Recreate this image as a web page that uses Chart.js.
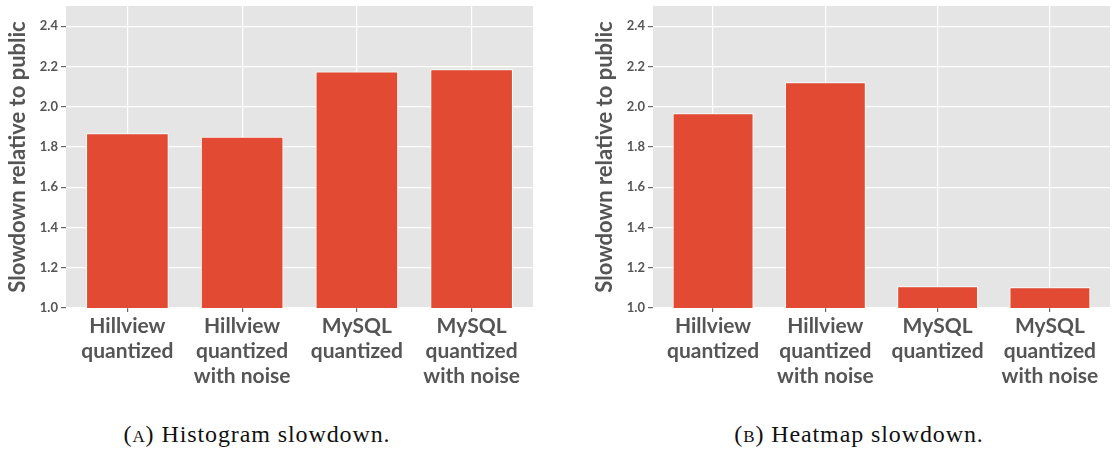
<!DOCTYPE html>
<html lang="en">

<head>
    <meta charset="UTF-8">
    <meta name="viewport" content="width=device-width, initial-scale=1.0">
    <title>Slowdown relative to public</title>
    <script src="https://cdn.jsdelivr.net/npm/chart.js"></script>
    <style>
        body {
            margin: 0;
            width: 1112px;
            height: 451px;
            background: #fff;
            position: relative;
            overflow: hidden;
        }

        .panel {
            position: absolute;
            top: 0;
            height: 395px;
        }

        #panelA {
            left: 0;
            width: 540px;
        }

        #panelB {
            left: 587px;
            width: 525px;
        }

        .caption {
            position: absolute;
            top: 421px;
            font-family: "Liberation Serif", "DejaVu Serif", serif;
            font-size: 24px;
            letter-spacing: 0.9px;
            color: #111;
            white-space: nowrap;
            transform: translateX(-50%);
        }

        .sc {
            font-variant: small-caps;
        }
    </style>
</head>

<body>
    <div class="panel" id="panelA"><canvas id="histChart"></canvas></div>
    <div class="panel" id="panelB"><canvas id="heatChart"></canvas></div>
    <div class="caption" style="left: 257px;">(<span class="sc">a</span>) Histogram slowdown.</div>
    <div class="caption" style="left: 859px;">(<span class="sc">b</span>) Heatmap slowdown.</div>

    <script>
        // categories (multi-line labels)
        const categories = [
            ['Hillview', 'quantized'],
            ['Hillview', 'quantized', 'with noise'],
            ['MySQL', 'quantized'],
            ['MySQL', 'quantized', 'with noise']
        ];
        // values
        const histogramSlowdown = [1.868, 1.851, 2.175, 2.186];
        const heatmapSlowdown = [1.967, 2.121, 1.108, 1.103];
        const yTicks = [1.0, 1.2, 1.4, 1.6, 1.8, 2.0, 2.2, 2.4];

        // grey panel behind the plot area (ggplot look)
        const panelBackground = {
            id: 'panelBackground',
            beforeDraw(chart) {
                const { ctx, chartArea } = chart;
                ctx.save();
                ctx.fillStyle = '#e5e5e5';
                ctx.fillRect(chartArea.left, chartArea.top, chartArea.right - chartArea.left, chartArea.bottom - chartArea.top);
                ctx.restore();
            }
        };

        function makeChart(canvasId, values, rightPad) {
            const points = values.map((v, i) => ({ x: i, y: v }));
            return new Chart(document.getElementById(canvasId), {
                type: 'bar',
                data: {
                    datasets: [{
                        data: points,
                        backgroundColor: '#e24a33',
                        borderColor: '#ffffff',
                        borderWidth: 1,
                        barPercentage: 0.72,
                        categoryPercentage: 1
                    }]
                },
                options: {
                    responsive: true,
                    maintainAspectRatio: false,
                    animation: false,
                    layout: { padding: { top: 6, right: rightPad, left: 0, bottom: 0 } },
                    plugins: {
                        legend: { display: false },
                        tooltip: { enabled: false }
                    },
                    scales: {
                        x: {
                            type: 'linear',
                            min: -0.535,
                            max: 3.535,
                            offset: false,
                            afterBuildTicks(axis) {
                                axis.ticks = categories.map((c, i) => ({ value: i }));
                            },
                            afterFit(axis) {
                                axis.height = 87;
                                axis.paddingLeft = 0;
                                axis.paddingRight = 0;
                            },
                            grid: { offset: false, color: '#ffffff', lineWidth: 1.2, tickColor: '#666', tickLength: 4 },
                            border: { display: false },
                            ticks: {
                                autoSkip: false,
                                maxRotation: 0,
                                padding: 2,
                                color: '#555',
                                font: { family: 'Lato', size: 21, weight: 'bold', lineHeight: 1.18 },
                                callback: (value) => categories[value]
                            }
                        },
                        y: {
                            min: 1.0,
                            max: 2.5,
                            afterBuildTicks(axis) {
                                axis.ticks = yTicks.map(v => ({ value: v }));
                            },
                            afterFit(axis) {
                                axis.width = 66;
                                axis.paddingTop = 0;
                                axis.paddingBottom = 0;
                            },
                            grid: { color: '#ffffff', lineWidth: 1.2, tickColor: '#666', tickLength: 5 },
                            border: { display: false },
                            ticks: {
                                padding: 3,
                                color: '#555',
                                font: { family: 'Lato', size: 13, weight: 'bold' },
                                callback: (value) => value.toFixed(1)
                            },
                            title: {
                                display: true,
                                text: 'Slowdown relative to public',
                                color: '#555',
                                font: { family: 'Lato', size: 22, weight: 'bold' },
                                padding: { top: 5, bottom: 0 }
                            }
                        }
                    }
                },
                plugins: [panelBackground]
            });
        }

        document.addEventListener('DOMContentLoaded', function () {
            makeChart('histChart', histogramSlowdown, 7);
            makeChart('heatChart', heatmapSlowdown, 2);
        });
    </script>
</body>

</html>
